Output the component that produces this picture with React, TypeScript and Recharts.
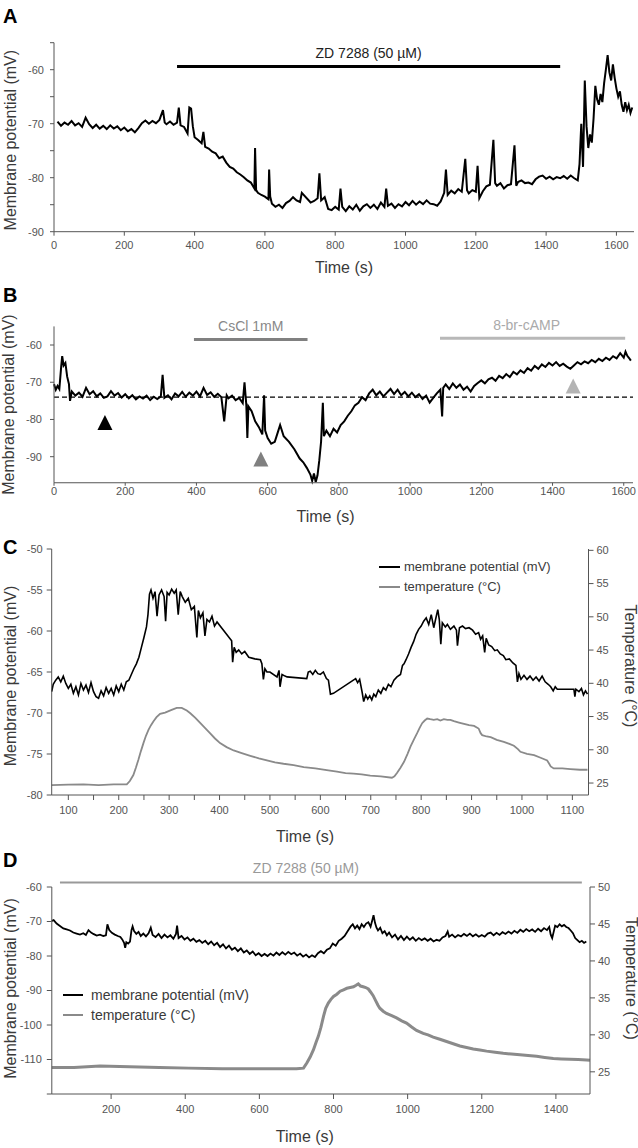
import React from "react";
import {
  ComposedChart,
  Line,
  Scatter,
  XAxis,
  YAxis,
  ReferenceLine,
  Legend,
} from "recharts";

// ---- data: [time (s), value] ----
const aMembrane: [number, number][] = [
  [10, -69.6], [20, -70.4], [30, -69.8], [40, -70.2], [50, -69.5], [60, -70.3], [70, -69.9], [80, -70.6],
  [90, -68.9], [100, -70.1], [110, -70.8], [120, -70.2], [130, -70.9], [140, -70.4], [150, -71.0], [160, -70.3],
  [170, -70.9], [180, -70.5], [190, -71.2], [200, -70.7], [210, -71.4], [220, -71.0], [230, -71.6], [240, -70.8],
  [250, -69.9], [260, -69.4], [270, -70.0], [280, -69.5], [290, -69.9], [300, -69.3], [310, -67.5], [315, -69.8],
  [320, -70.1], [330, -69.6], [340, -70.2], [350, -69.8], [355, -67.0], [360, -70.3], [370, -70.6], [380, -71.8],
  [385, -67.0], [390, -67.2], [395, -70.5], [400, -72.5], [410, -73.0], [420, -73.6], [425, -71.5], [430, -74.3],
  [440, -74.6], [450, -75.2], [460, -75.5], [470, -76.4], [480, -76.1], [490, -77.2], [500, -78.0], [510, -78.3],
  [520, -79.0], [530, -79.4], [540, -79.9], [550, -80.5], [560, -80.9], [570, -82.0], [572, -74.5], [575, -82.3],
  [580, -82.8], [590, -83.2], [600, -83.5], [610, -84.0], [612, -78.5], [615, -83.5], [620, -84.8], [630, -85.4],
  [640, -85.0], [650, -85.6], [660, -84.7], [670, -84.3], [680, -83.6], [690, -84.2], [700, -84.5], [705, -82.8],
  [730, -84.6], [740, -84.3], [750, -83.8], [755, -79.2], [760, -84.2], [770, -83.6], [780, -85.8], [790, -86.0],
  [800, -85.4], [810, -85.9], [815, -82.0], [820, -85.4], [830, -86.2], [840, -85.3], [850, -85.9], [860, -85.0],
  [870, -86.1], [880, -85.3], [890, -84.9], [900, -85.6], [910, -85.0], [920, -85.8], [930, -84.6], [940, -85.4],
  [945, -82.0], [950, -85.2], [960, -84.8], [970, -85.6], [980, -84.9], [990, -85.3], [1000, -84.5], [1010, -85.1],
  [1020, -84.3], [1030, -85.0], [1040, -84.4], [1050, -84.9], [1060, -84.2], [1070, -84.8], [1080, -84.9], [1090, -85.2],
  [1100, -84.4], [1110, -82.8], [1115, -78.5], [1120, -83.2], [1130, -82.4], [1140, -82.9], [1150, -82.1], [1160, -82.6],
  [1170, -76.5], [1175, -82.3], [1180, -82.9], [1190, -82.3], [1200, -82.6], [1205, -77.8], [1210, -83.8], [1220, -82.5],
  [1230, -81.6], [1240, -81.3], [1250, -73.0], [1255, -81.0], [1260, -81.5], [1270, -81.0], [1280, -82.0], [1290, -81.4],
  [1300, -81.2], [1310, -74.0], [1315, -81.5], [1320, -80.8], [1330, -80.5], [1340, -81.0], [1350, -80.9], [1360, -81.2],
  [1370, -80.3], [1380, -79.8], [1390, -79.6], [1400, -80.2], [1410, -79.8], [1420, -80.3], [1430, -79.9], [1440, -80.1],
  [1450, -79.7], [1460, -80.2], [1470, -79.6], [1480, -80.1], [1490, -80.5], [1495, -77.5], [1500, -70.0], [1505, -78.0],
  [1510, -62.0], [1515, -70.5], [1520, -74.5], [1525, -72.0], [1530, -73.5], [1535, -69.0], [1540, -63.0], [1545, -65.5],
  [1550, -66.5], [1555, -64.5], [1560, -66.0], [1565, -62.5], [1570, -60.0], [1575, -57.3], [1580, -60.5], [1585, -62.0],
  [1590, -59.0], [1595, -61.5], [1600, -63.5], [1605, -65.0], [1610, -64.0], [1615, -66.5], [1620, -67.8], [1625, -66.0],
  [1630, -67.5], [1635, -66.5], [1640, -68.0], [1645, -67.0],
];

const bMembrane: [number, number][] = [
  [0, -70.5], [5, -72.0], [10, -71.0], [15, -71.8], [20, -66.0], [23, -63.0], [27, -65.5], [32, -64.8],
  [37, -68.5], [42, -70.5], [45, -75.0], [50, -72.5], [60, -73.6], [70, -72.8], [80, -73.9], [90, -71.5],
  [100, -73.2], [110, -72.4], [120, -73.8], [130, -73.0], [140, -74.2], [150, -73.8], [160, -72.4], [170, -73.6],
  [180, -72.9], [190, -74.1], [200, -73.2], [210, -74.3], [220, -73.5], [230, -74.6], [240, -73.8], [250, -74.4],
  [260, -73.6], [270, -74.8], [280, -73.9], [290, -74.5], [300, -73.8], [305, -68.0], [310, -74.2], [320, -73.5],
  [330, -74.6], [340, -73.0], [350, -73.8], [360, -72.6], [370, -73.9], [380, -72.8], [390, -73.6], [400, -72.5],
  [410, -73.8], [420, -71.5], [430, -73.4], [440, -72.7], [450, -73.9], [460, -73.1], [470, -74.0], [478, -80.5],
  [485, -73.5], [490, -74.3], [500, -73.6], [510, -74.8], [520, -74.2], [530, -75.6], [535, -70.0], [540, -76.0],
  [543, -85.0], [546, -76.5], [555, -77.8], [565, -80.5], [575, -82.0], [585, -84.0], [590, -73.5], [593, -83.0],
  [600, -85.0], [610, -86.5], [620, -86.0], [630, -83.0], [635, -81.5], [645, -84.5], [660, -86.0], [675, -88.0],
  [690, -90.5], [700, -91.5], [710, -93.0], [720, -94.8], [725, -96.5], [730, -94.5], [735, -96.8], [740, -95.0],
  [745, -91.0], [750, -86.0], [755, -75.5], [758, -84.5], [765, -83.0], [775, -84.5], [785, -82.5], [795, -83.5],
  [805, -81.5], [815, -80.5], [825, -79.0], [835, -77.8], [845, -76.2], [855, -75.5], [865, -74.0], [875, -74.8],
  [885, -73.0], [895, -72.0], [905, -73.5], [915, -72.5], [925, -73.8], [935, -72.8], [945, -71.8], [955, -73.2],
  [965, -72.0], [975, -73.5], [985, -72.6], [995, -73.8], [1005, -72.8], [1015, -74.0], [1025, -73.2], [1035, -74.5],
  [1045, -73.6], [1055, -75.5], [1065, -74.2], [1075, -73.0], [1085, -72.0], [1090, -79.2], [1093, -71.5], [1100, -70.6],
  [1110, -71.8], [1120, -70.3], [1130, -71.5], [1140, -70.6], [1150, -72.0], [1160, -71.2], [1170, -72.5], [1180, -71.0],
  [1190, -70.2], [1200, -69.5], [1210, -70.3], [1220, -69.2], [1230, -68.8], [1240, -69.6], [1250, -68.3], [1260, -68.9],
  [1270, -67.8], [1280, -68.6], [1290, -67.2], [1300, -67.9], [1310, -66.8], [1320, -67.5], [1330, -66.2], [1340, -66.9],
  [1350, -65.6], [1360, -66.4], [1370, -65.2], [1380, -65.9], [1390, -64.8], [1400, -65.5], [1410, -64.6], [1420, -65.6],
  [1430, -65.0], [1440, -65.8], [1450, -66.4], [1460, -65.5], [1470, -64.6], [1480, -65.2], [1490, -64.4], [1500, -64.9],
  [1510, -64.0], [1520, -64.6], [1530, -63.7], [1540, -64.3], [1550, -63.4], [1560, -64.0], [1570, -63.0], [1580, -63.6],
  [1590, -62.2], [1600, -63.4], [1605, -61.8], [1610, -62.9], [1615, -63.5], [1620, -64.2],
];

const cMembrane: [number, number][] = [
  [67, -67.4], [70, -66.5], [75, -66.0], [80, -65.6], [85, -66.2], [90, -65.5], [95, -66.4], [100, -67.0],
  [105, -66.5], [110, -67.6], [115, -66.8], [120, -67.8], [125, -66.4], [130, -67.2], [135, -66.6], [140, -67.5],
  [145, -66.3], [150, -67.4], [155, -68.0], [160, -68.2], [165, -67.3], [170, -67.9], [175, -66.9], [180, -67.6],
  [185, -67.0], [190, -67.8], [195, -66.7], [200, -67.4], [205, -66.5], [210, -67.2], [215, -66.2], [220, -66.0],
  [225, -65.3], [230, -64.6], [235, -64.0], [240, -63.2], [245, -62.0], [250, -60.8], [255, -59.5], [258, -58.0],
  [261, -55.5], [264, -55.0], [268, -56.0], [272, -55.2], [276, -58.2], [280, -55.6], [285, -55.0], [290, -55.8],
  [293, -58.8], [296, -55.3], [300, -55.6], [305, -54.9], [310, -55.4], [314, -55.0], [318, -58.0], [322, -55.2],
  [326, -55.8], [332, -56.5], [338, -56.0], [344, -57.4], [350, -57.0], [355, -60.8], [358, -57.5], [362, -58.4],
  [367, -57.8], [371, -60.6], [375, -58.6], [380, -58.9], [385, -58.2], [390, -59.4], [395, -58.9], [424, -61.2],
  [426, -63.8], [429, -62.0], [433, -62.6], [438, -62.3], [444, -62.8], [450, -62.5], [458, -63.2], [470, -63.4],
  [481, -63.5], [484, -64.0], [487, -65.9], [490, -64.6], [494, -65.0], [500, -65.0], [514, -65.6], [518, -64.8],
  [520, -66.8], [524, -65.3], [530, -65.5], [534, -65.6], [573, -65.8], [576, -65.0], [580, -64.9], [585, -65.3],
  [590, -64.8], [595, -65.2], [600, -65.3], [606, -65.0], [612, -65.8], [616, -66.0], [620, -67.7], [626, -67.6],
  [670, -65.8], [674, -66.3], [678, -65.9], [683, -67.5], [686, -68.6], [690, -67.8], [694, -68.3], [698, -67.9],
  [702, -68.4], [706, -67.7], [710, -68.0], [715, -67.2], [720, -67.6], [725, -66.9], [730, -67.2], [735, -66.5],
  [740, -66.8], [746, -66.0], [752, -65.6], [759, -65.3], [763, -64.2], [766, -64.0], [770, -63.5], [775, -62.8],
  [780, -62.0], [785, -61.3], [790, -60.4], [795, -59.8], [800, -59.4], [805, -58.8], [810, -58.4], [815, -59.2],
  [820, -58.0], [825, -59.6], [830, -58.2], [833, -57.4], [836, -58.6], [839, -61.6], [842, -59.0], [848, -59.5],
  [852, -59.2], [858, -59.8], [865, -59.4], [870, -59.9], [872, -61.8], [876, -59.6], [882, -59.4], [888, -59.7],
  [895, -59.6], [902, -59.9], [908, -60.4], [914, -60.2], [918, -61.0], [922, -60.6], [926, -62.6], [929, -60.9],
  [934, -61.7], [940, -61.9], [946, -62.4], [951, -62.3], [957, -62.8], [963, -63.0], [968, -63.5], [975, -63.4],
  [982, -63.9], [988, -64.2], [991, -66.2], [994, -65.2], [998, -65.9], [1004, -65.4], [1010, -65.9], [1016, -65.5],
  [1022, -66.0], [1028, -65.6], [1034, -66.1], [1040, -65.5], [1046, -66.2], [1052, -66.5], [1057, -66.8], [1062, -67.3],
  [1066, -66.8], [1070, -67.1], [1103, -67.1], [1105, -68.0], [1107, -67.1], [1113, -67.4], [1118, -67.0], [1122, -67.8],
  [1126, -67.3], [1130, -67.7],
];

const cTemperature: [number, number][] = [
  [67, 24.7], [100, 24.75], [130, 24.8], [160, 24.7], [190, 24.8], [216, 24.8], [222, 25.3], [229, 26.2],
  [234, 27.3], [239, 28.5], [244, 29.8], [249, 31.0], [254, 32.1], [259, 33.0], [264, 33.7], [269, 34.3],
  [275, 34.9], [282, 35.4], [292, 35.6], [305, 36.0], [315, 36.3], [325, 36.3], [335, 35.9], [342, 35.5],
  [352, 34.8], [362, 34.0], [371, 33.3], [381, 32.5], [391, 31.7], [401, 31.0], [414, 30.4], [428, 29.9],
  [444, 29.5], [461, 29.1], [478, 28.7], [494, 28.4], [510, 28.1], [527, 27.9], [547, 27.7], [567, 27.4],
  [590, 27.2], [616, 26.9], [633, 26.7], [650, 26.5], [666, 26.4], [682, 26.3], [699, 26.1], [720, 26.0],
  [742, 25.8], [747, 26.0], [752, 26.5], [759, 27.3], [766, 28.2], [773, 29.4], [779, 30.5], [786, 31.6],
  [792, 32.5], [797, 33.3], [802, 34.0], [807, 34.4], [812, 34.7], [818, 34.6], [825, 34.5], [832, 34.6],
  [838, 34.4], [845, 34.6], [852, 34.5], [858, 34.5], [865, 34.3], [875, 34.1], [885, 33.9], [895, 33.7],
  [905, 33.6], [914, 33.2], [918, 32.5], [921, 32.2], [930, 32.0], [938, 31.9], [950, 31.5], [964, 31.2],
  [975, 30.9], [984, 30.6], [992, 30.1], [997, 29.7], [1010, 29.4], [1024, 29.2], [1037, 28.8], [1050, 28.4],
  [1054, 27.9], [1057, 27.5], [1063, 27.2], [1080, 27.2], [1096, 27.1], [1115, 27.0], [1130, 27.0],
];

const dMembrane: [number, number][] = [
  [40, -69.8], [45, -69.6], [53, -70.6], [62, -71.3], [71, -72.0], [80, -72.3], [89, -72.6], [98, -73.2],
  [107, -73.5], [116, -73.8], [125, -73.4], [132, -73.9], [139, -72.5], [146, -73.2], [152, -73.6], [161, -74.1],
  [170, -73.8], [179, -74.2], [186, -74.0], [190, -70.8], [195, -72.5], [202, -73.3], [210, -73.8], [218, -74.2],
  [225, -74.5], [230, -75.2], [235, -76.2], [238, -77.6], [241, -76.0], [246, -76.4], [251, -75.8], [255, -72.5],
  [258, -71.4], [262, -72.8], [268, -73.6], [274, -73.0], [280, -74.2], [287, -73.5], [294, -74.3], [301, -73.4],
  [307, -71.8], [312, -73.9], [320, -74.5], [328, -73.6], [336, -74.8], [344, -73.8], [352, -74.6], [360, -74.0],
  [368, -75.0], [375, -73.6], [378, -71.2], [382, -74.8], [390, -74.2], [398, -75.2], [406, -74.6], [414, -75.6],
  [422, -75.0], [430, -75.9], [438, -75.4], [446, -76.2], [454, -75.6], [462, -76.6], [470, -75.8], [478, -76.9],
  [486, -76.2], [494, -77.4], [502, -76.6], [510, -77.8], [518, -77.0], [526, -78.2], [534, -77.6], [542, -78.6],
  [550, -77.8], [558, -79.0], [566, -78.4], [574, -79.4], [582, -78.7], [590, -79.8], [598, -79.2], [606, -80.0],
  [614, -79.4], [622, -80.0], [630, -79.3], [638, -79.9], [646, -79.0], [654, -79.7], [662, -78.9], [670, -79.6],
  [678, -78.8], [686, -79.5], [694, -79.0], [702, -79.9], [710, -79.3], [718, -80.2], [726, -79.6], [734, -80.4],
  [742, -79.8], [750, -80.3], [758, -79.2], [766, -78.6], [774, -79.2], [782, -78.2], [790, -77.8], [798, -76.4],
  [806, -77.0], [814, -75.6], [822, -75.0], [830, -74.2], [838, -72.8], [846, -71.5], [852, -70.8], [858, -72.0],
  [864, -71.2], [870, -72.2], [876, -70.8], [882, -71.6], [888, -70.6], [894, -70.2], [900, -71.5], [905, -69.5],
  [908, -68.2], [912, -70.4], [916, -71.8], [920, -72.6], [926, -71.8], [932, -73.4], [938, -72.8], [944, -74.0],
  [950, -73.2], [958, -74.6], [966, -73.8], [974, -75.2], [982, -74.2], [990, -75.4], [998, -74.4], [1006, -75.3],
  [1014, -74.6], [1022, -75.6], [1030, -74.8], [1038, -75.4], [1046, -74.9], [1054, -75.6], [1062, -75.0], [1070, -75.8],
  [1078, -75.3], [1086, -75.6], [1094, -74.6], [1102, -74.2], [1108, -72.9], [1112, -74.4], [1120, -73.8], [1128, -74.6],
  [1136, -73.9], [1144, -74.3], [1152, -73.6], [1160, -74.2], [1168, -73.5], [1176, -74.3], [1184, -73.7], [1192, -74.4],
  [1200, -73.9], [1208, -74.4], [1216, -73.5], [1224, -73.2], [1232, -74.0], [1240, -73.3], [1248, -73.9], [1256, -73.1],
  [1264, -73.6], [1272, -72.9], [1280, -73.5], [1288, -72.7], [1296, -73.3], [1304, -72.4], [1312, -73.0], [1320, -72.2],
  [1328, -72.8], [1336, -72.3], [1344, -73.0], [1352, -72.1], [1360, -72.8], [1368, -71.9], [1376, -72.5], [1382, -71.6],
  [1386, -73.8], [1390, -74.8], [1394, -73.0], [1398, -71.2], [1404, -71.6], [1410, -70.8], [1416, -71.4], [1422, -71.0],
  [1428, -71.6], [1434, -71.9], [1440, -72.6], [1446, -73.4], [1452, -74.8], [1458, -75.4], [1464, -76.0], [1470, -75.6],
  [1476, -76.2], [1482, -75.8],
];

const dTemperature: [number, number][] = [
  [40, 25.6], [100, 25.6], [170, 25.8], [250, 25.7], [330, 25.6], [410, 25.5], [500, 25.4], [600, 25.4],
  [700, 25.4], [719, 25.5], [728, 26.2], [737, 27.0], [746, 28.0], [753, 29.0], [759, 29.8], [766, 31.0],
  [773, 32.5], [779, 33.6], [786, 34.3], [793, 34.8], [800, 35.2], [809, 35.5], [818, 35.9], [827, 36.1],
  [836, 36.3], [845, 36.4], [854, 36.5], [861, 36.7], [867, 36.9], [873, 36.6], [880, 36.5], [887, 36.4],
  [894, 36.2], [900, 35.8], [907, 35.3], [914, 34.6], [920, 34.0], [925, 33.6], [934, 33.2], [943, 32.9],
  [957, 32.6], [970, 32.3], [984, 31.9], [997, 31.6], [1010, 31.1], [1024, 30.6], [1033, 30.4], [1042, 30.2],
  [1055, 30.0], [1069, 29.7], [1087, 29.4], [1105, 29.1], [1123, 28.8], [1141, 28.5], [1159, 28.3], [1177, 28.1],
  [1195, 27.95], [1213, 27.8], [1236, 27.65], [1258, 27.5], [1280, 27.4], [1303, 27.3], [1325, 27.2], [1348, 27.1],
  [1370, 26.95], [1393, 26.8], [1415, 26.75], [1438, 26.7], [1460, 26.65], [1483, 26.6], [1492, 26.55],
];

// treatment bars [start, end, level]
const aZdBar = [350, 1440, -59.4];
const bCsClBar = [393, 712, -58.5];
const bCampBar = [1084, 1604, -58.2];
const dZdBar = [62, 1470, -58.7];
const bBaseline = -74;

// arrowheads in B
const bMarkBlack = [{ t: 143, v: -80.8 }];
const bMarkGray = [{ t: 581, v: -90.6 }];
const bMarkLight = [{ t: 1458, v: -71.0 }];

// ticks
const aTimeTicks = [0, 200, 400, 600, 800, 1000, 1200, 1400, 1600];
const aVmTicks = [-90, -85, -80, -75, -70, -65, -60, -55];
const bTimeTicks = [0, 200, 400, 600, 800, 1000, 1200, 1400, 1600];
const bVmTicks = [-90, -80, -70, -60];
const cTimeTicks = [100, 150, 200, 250, 300, 350, 400, 450, 500, 550, 600, 650, 700, 750, 800, 850, 900, 950, 1000, 1050, 1100];
const cVmTicks = [-80, -75, -70, -65, -60, -55, -50];
const cTempTicks = [25, 30, 35, 40, 45, 50, 55, 60];
const dTimeTicks = [200, 400, 600, 800, 1000, 1200, 1400];
const dVmTicks = [-120, -110, -100, -90, -80, -70, -60];
const dTempTicks = [25, 30, 35, 40, 45, 50];

const toRows = (pairs: [number, number][]) => pairs.map(([t, v]) => ({ t, v }));
const aData = toRows(aMembrane);
const bData = toRows(bMembrane);
const cVmData = toRows(cMembrane);
const cTempData = toRows(cTemperature);
const dVmData = toRows(dMembrane);
const dTempData = toRows(dTemperature);

const AXIS = "#555";
const TICK = { fontSize: 11, fill: "#555" };
const TITLE = "#3a3a3a";
const TEMP_GRAY = "#8a8a8a";

const timeLabel = {
  value: "Time (s)",
  position: "insideBottom" as const,
  offset: 0,
  fontSize: 16,
  fill: TITLE,
};

// rotated axis title drawn inside the axis box
const sideTitle = (text: string, side: "left" | "right", offset: number, shift = 0) => (props: any) => {
  const vb = props.viewBox || { x: 0, y: 0, width: 0, height: 0 };
  const x = side === "left" ? vb.x + offset : vb.x + vb.width - offset;
  const y = vb.y + vb.height / 2 + shift;
  const angle = side === "left" ? -90 : 90;
  return (
    <text
      x={x}
      y={y}
      transform={`rotate(${angle}, ${x}, ${y})`}
      textAnchor="middle"
      dominantBaseline="central"
      fontSize={16}
      fill={TITLE}
    >
      {text}
    </text>
  );
};

const VM_TITLE = "Membrane potential (mV)";
const TEMP_TITLE = "Temperature (°C)";

const triangle = (props: any) => {
  const { cx, cy, fill } = props;
  return (
    <polygon
      points={`${cx},${cy - 7.5} ${cx - 7.5},${cy + 7.5} ${cx + 7.5},${cy + 7.5}`}
      fill={fill}
    />
  );
};

function TraceLegend({ payload, fontSize, lineWidth, gap }: any) {
  return (
    <div>
      {(payload || []).map((item: any) => (
        <div key={item.value} style={{ display: "flex", alignItems: "center", height: 20 }}>
          <span
            style={{
              display: "inline-block",
              width: lineWidth,
              height: 2,
              background: item.color,
              marginRight: gap,
            }}
          />
          <span style={{ fontSize, color: TITLE, whiteSpace: "nowrap" }}>{item.value}</span>
        </div>
      ))}
    </div>
  );
}

const tensOnly = (v: number) => (v % 10 === 0 ? String(v) : "");
const hundredsOnly = (v: number) => (v % 100 === 0 ? String(v) : "");

function PanelA() {
  return (
    <ComposedChart width={638} height={290} margin={{ top: 42.7, right: 4, bottom: 17, left: 0 }}>
      <XAxis
        type="number"
        dataKey="t"
        domain={[0, 1650]}
        ticks={aTimeTicks}
        interval={0}
        height={41.3}
        stroke={AXIS}
        tickSize={4}
        tickMargin={5}
        tick={TICK}
        label={timeLabel}
      />
      <YAxis
        type="number"
        domain={[-90, -55]}
        ticks={aVmTicks}
        interval={0}
        width={54}
        stroke={AXIS}
        tickSize={4}
        tickMargin={6}
        tick={TICK}
        tickFormatter={tensOnly}
        label={sideTitle(VM_TITLE, "left", 11, 3)}
      />
      <ReferenceLine
        segment={[{ x: aZdBar[0], y: aZdBar[2] }, { x: aZdBar[1], y: aZdBar[2] }]}
        stroke="#000"
        strokeWidth={3}
        label={{ value: "ZD 7288 (50 µM)", position: "top", offset: 8, fontSize: 14, fill: "#222" }}
      />
      <Line data={aData} dataKey="v" type="linear" stroke="#000" strokeWidth={2} dot={false} isAnimationActive={false} />
    </ComposedChart>
  );
}

function PanelB() {
  return (
    <ComposedChart width={638} height={265} margin={{ top: 36.4, right: 5, bottom: 33.25, left: 0 }}>
      <XAxis
        type="number"
        dataKey="t"
        domain={[0, 1626]}
        ticks={bTimeTicks}
        interval={0}
        height={39}
        stroke={AXIS}
        tickSize={3}
        tickMargin={1}
        tick={TICK}
        label={{ ...timeLabel, dx: -18 }}
      />
      <YAxis
        type="number"
        dataKey="v"
        domain={[-97, -55]}
        ticks={bVmTicks}
        interval={0}
        width={54}
        stroke={AXIS}
        tickSize={4}
        tickMargin={8}
        tick={TICK}
        label={sideTitle(VM_TITLE, "left", 9, 0)}
      />
      <ReferenceLine y={bBaseline} stroke="#000" strokeWidth={1.3} strokeDasharray="5 3" />
      <ReferenceLine
        segment={[{ x: bCsClBar[0], y: bCsClBar[2] }, { x: bCsClBar[1], y: bCsClBar[2] }]}
        stroke="#808080"
        strokeWidth={3}
        label={{ value: "CsCl 1mM", position: "top", offset: 8, fontSize: 14, fill: "#888" }}
      />
      <ReferenceLine
        segment={[{ x: bCampBar[0], y: bCampBar[2] }, { x: bCampBar[1], y: bCampBar[2] }]}
        stroke="#b8b8b8"
        strokeWidth={3}
        label={{ value: "8-br-cAMP", position: "top", offset: 8, fontSize: 14, fill: "#aaa", dx: -6 }}
      />
      <Line data={bData} dataKey="v" type="linear" stroke="#000" strokeWidth={2} dot={false} isAnimationActive={false} />
      <Scatter data={bMarkBlack} dataKey="v" fill="#000" shape={triangle} isAnimationActive={false} />
      <Scatter data={bMarkGray} dataKey="v" fill="#808080" shape={triangle} isAnimationActive={false} />
      <Scatter data={bMarkLight} dataKey="v" fill="#b4b4b4" shape={triangle} isAnimationActive={false} />
    </ComposedChart>
  );
}

function PanelC() {
  return (
    <ComposedChart width={638} height={310} margin={{ top: 9, right: 0, bottom: 8.3, left: 0 }}>
      <XAxis
        type="number"
        dataKey="t"
        domain={[67, 1132]}
        ticks={cTimeTicks}
        interval={0}
        height={46.7}
        stroke={AXIS}
        tickSize={5}
        tickMargin={6}
        tick={TICK}
        tickFormatter={hundredsOnly}
        label={{ ...timeLabel, dx: -15 }}
      />
      <YAxis
        yAxisId="left"
        type="number"
        domain={[-80, -50]}
        ticks={cVmTicks}
        interval={0}
        width={51.7}
        stroke={AXIS}
        tickSize={5}
        tickMargin={4}
        tick={TICK}
        label={sideTitle(VM_TITLE, "left", 10, 4)}
      />
      <YAxis
        yAxisId="right"
        orientation="right"
        type="number"
        domain={[23.2, 60.2]}
        ticks={cTempTicks}
        interval={0}
        width={49.5}
        stroke={AXIS}
        tickSize={5}
        tickMargin={3}
        tick={TICK}
        label={sideTitle(TEMP_TITLE, "right", 8, -6)}
      />
      <Legend
        layout="vertical"
        align="center"
        verticalAlign="middle"
        wrapperStyle={{ left: 379, top: 16.5, width: 240, height: 40 }}
        content={(props: any) => <TraceLegend {...props} fontSize={13} lineWidth={21} gap={4} />}
      />
      <Line yAxisId="left" data={cVmData} dataKey="v" name="membrane potential (mV)" type="linear" stroke="#000" strokeWidth={1.6} dot={false} isAnimationActive={false} />
      <Line yAxisId="right" data={cTempData} dataKey="v" name="temperature (°C)" type="linear" stroke={TEMP_GRAY} strokeWidth={1.8} dot={false} isAnimationActive={false} />
    </ComposedChart>
  );
}

function PanelD() {
  return (
    <ComposedChart width={638} height={288} margin={{ top: 27, right: 0, bottom: 6, left: 0 }}>
      <XAxis
        type="number"
        dataKey="t"
        domain={[40, 1492]}
        ticks={dTimeTicks}
        interval={0}
        height={48}
        stroke={AXIS}
        tickSize={5}
        tickMargin={6}
        tick={TICK}
        label={{ ...timeLabel, dx: -16 }}
      />
      <YAxis
        yAxisId="left"
        type="number"
        domain={[-120, -60]}
        ticks={dVmTicks}
        interval={0}
        width={51.8}
        stroke={AXIS}
        tickSize={5}
        tickMargin={5}
        tick={TICK}
        tickFormatter={(v: number) => (v === -120 ? "" : String(v))}
        label={sideTitle(VM_TITLE, "left", 10, -2)}
      />
      <YAxis
        yAxisId="right"
        orientation="right"
        type="number"
        domain={[22, 50]}
        ticks={dTempTicks}
        interval={0}
        width={48}
        stroke={AXIS}
        tickSize={5}
        tickMargin={3}
        tick={TICK}
        label={sideTitle(TEMP_TITLE, "right", 7, -12)}
      />
      <ReferenceLine
        yAxisId="left"
        ifOverflow="visible"
        segment={[{ x: dZdBar[0], y: dZdBar[2] }, { x: dZdBar[1], y: dZdBar[2] }]}
        stroke="#999"
        strokeWidth={2}
        label={{ value: "ZD 7288 (50 µM)", position: "top", offset: 10, fontSize: 14, fill: "#999", dx: -15 }}
      />
      <Legend
        layout="vertical"
        align="center"
        verticalAlign="middle"
        wrapperStyle={{ left: 63, top: 125, width: 260, height: 40 }}
        content={(props: any) => <TraceLegend {...props} fontSize={14} lineWidth={20} gap={8} />}
      />
      <Line yAxisId="left" data={dVmData} dataKey="v" name="membrane potential (mV)" type="linear" stroke="#000" strokeWidth={1.8} dot={false} isAnimationActive={false} />
      <Line yAxisId="right" data={dTempData} dataKey="v" name="temperature (°C)" type="linear" stroke={TEMP_GRAY} strokeWidth={3} dot={false} isAnimationActive={false} />
    </ComposedChart>
  );
}

const letterStyle = (top: number): React.CSSProperties => ({
  position: "absolute",
  left: 3,
  top,
  fontSize: 20,
  fontWeight: "bold",
  lineHeight: "20px",
  color: "#000",
});

export default function App() {
  return (
    <div
      style={{
        position: "absolute",
        left: 0,
        top: 0,
        width: 638,
        height: 1148,
        background: "#fff",
        fontFamily: "'Liberation Sans', Arial, sans-serif",
        overflow: "hidden",
      }}
    >
      <div style={{ position: "absolute", left: 0, top: 0 }}>
        <PanelA />
      </div>
      <div style={{ position: "absolute", left: 0, top: 290 }}>
        <PanelB />
      </div>
      <div style={{ position: "absolute", left: 0, top: 540 }}>
        <PanelC />
      </div>
      <div style={{ position: "absolute", left: 0, top: 860 }}>
        <PanelD />
      </div>
      <div style={letterStyle(5.7)}>A</div>
      <div style={letterStyle(284.7)}>B</div>
      <div style={letterStyle(536.7)}>C</div>
      <div style={letterStyle(850)}>D</div>
    </div>
  );
}
